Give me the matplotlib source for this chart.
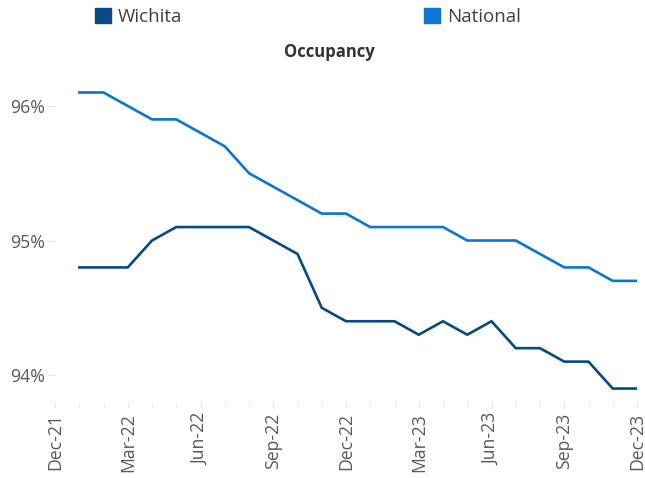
import matplotlib
matplotlib.use("Agg")
import matplotlib.pyplot as plt
from matplotlib.patches import Patch

plt.rcParams['font.family'] = ['Open Sans', 'DejaVu Sans']

# month labels for the axis, Dec-21 .. Dec-23
months = ['Dec-21', 'Jan-22', 'Feb-22', 'Mar-22', 'Apr-22', 'May-22', 'Jun-22',
          'Jul-22', 'Aug-22', 'Sep-22', 'Oct-22', 'Nov-22', 'Dec-22',
          'Jan-23', 'Feb-23', 'Mar-23', 'Apr-23', 'May-23', 'Jun-23',
          'Jul-23', 'Aug-23', 'Sep-23', 'Oct-23', 'Nov-23', 'Dec-23']

# series run Jan-22 .. Dec-23
wichita = [94.8, 94.8, 94.8, 95.0, 95.1, 95.1, 95.1, 95.1, 95.0, 94.9, 94.5, 94.4,
           94.4, 94.4, 94.3, 94.4, 94.3, 94.4, 94.2, 94.2, 94.1, 94.1, 93.9, 93.9]
national = [96.1, 96.1, 96.0, 95.9, 95.9, 95.8, 95.7, 95.5, 95.4, 95.3, 95.2, 95.2,
            95.1, 95.1, 95.1, 95.1, 95.0, 95.0, 95.0, 94.9, 94.8, 94.8, 94.7, 94.7]

c_wichita = '#064a84'
c_national = '#0a76d2'
grey = '#595959'

fig = plt.figure(figsize=(6.45, 4.78), dpi=100)
ax = fig.add_axes([0.0853, 0.159, 0.9023, 0.6757])

x = list(range(1, len(wichita) + 1))
ax.plot(x, wichita, color=c_wichita, lw=1.9, solid_joinstyle='miter')
ax.plot(x, national, color=c_national, lw=1.9, solid_joinstyle='miter')

ax.set_xlim(0, 24)
ax.set_ylim(93.8, 96.2)

ax.set_xticks(range(0, 25, 3))
ax.set_xticklabels(months[::3], rotation=90)
ax.set_xticks(range(0, 25), minor=True)
ax.set_yticks([94, 95, 96])
ax.set_yticklabels(['94%', '95%', '96%'])

for s in ax.spines.values():
    s.set_visible(False)
ax.tick_params(axis='x', which='both', length=4, color='#e6e6e6', labelsize=12.7,
               labelcolor=grey, pad=4)
ax.tick_params(axis='y', length=6, color='#e6e6e6', labelsize=12.7, labelcolor=grey, pad=1)

fig.text(0.51, 0.891, 'Occupancy', ha='center', va='center', fontsize=12,
         fontweight='bold', color='#333333')

handles = [Patch(color=c_wichita, label='Wichita'), Patch(color=c_national, label='National')]
fig.legend(handles=handles, loc='center', bbox_to_anchor=(0.4775, 0.965), ncol=2,
           frameon=False, fontsize=13.5, handlelength=0.85, handleheight=0.85,
           handletextpad=0.37, columnspacing=12.9, labelcolor='#404040')

fig.savefig('out.png', dpi=100)
